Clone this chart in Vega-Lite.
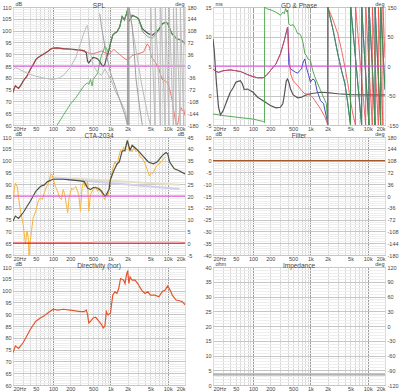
{
"$schema":"https://vega.github.io/schema/vega-lite/v6.json",
"background":"white",
"padding":{"left":1,"top":0,"right":0,"bottom":0},
"columns":2,
"spacing":{"row":12,"column":28},
"bounds":"flush",
"config":{
 "view":{"stroke":"#9a9a9a","strokeWidth":1},
 "font":"Liberation Sans",
 "axis":{"labelFont":"Liberation Sans","labelFontSize":5.5,"labelColor":"#444444","ticks":false,"domain":false,"labelOverlap":false,"titleFont":"Liberation Sans","titleFontSize":5.5,"titleFontWeight":"normal","titleColor":"#444444","labelPadding":2,"gridWidth":1},
 "title":{"font":"Liberation Sans","fontSize":6.5,"fontWeight":"normal","color":"#444444","offset":0,"dy":12,"anchor":"middle","frame":"group"}
},
"datasets":{
"p1l":[
{"s":"t","f":20,"v":73.8},{"s":"t","f":21,"v":75.5},{"s":"t","f":22,"v":76.6},{"s":"t","f":23,"v":76.2},{"s":"t","f":25,"v":75.5},{"s":"t","f":28,"v":77.2},{"s":"t","f":30,"v":78.6},{"s":"t","f":35,"v":80.7},{"s":"t","f":40,"v":83.5},{"s":"t","f":45,"v":85.6},{"s":"t","f":50,"v":87.7},{"s":"t","f":55,"v":88.6},{"s":"t","f":60,"v":89.2},{"s":"t","f":70,"v":90.2},{"s":"t","f":80,"v":91.1},{"s":"t","f":90,"v":92.1},{"s":"t","f":100,"v":92.6},{"s":"t","f":120,"v":92.7},{"s":"t","f":150,"v":92.4},{"s":"t","f":200,"v":92.2},{"s":"t","f":250,"v":91.9},{"s":"t","f":300,"v":91.7},{"s":"t","f":350,"v":91.4},{"s":"t","f":380,"v":90.5},{"s":"t","f":400,"v":87},{"s":"t","f":420,"v":86.3},{"s":"t","f":450,"v":87.4},{"s":"t","f":500,"v":88.6},{"s":"t","f":550,"v":88.4},{"s":"t","f":600,"v":88},{"s":"t","f":650,"v":87},{"s":"t","f":700,"v":85.6},{"s":"t","f":750,"v":84.9},{"s":"t","f":800,"v":85.6},{"s":"t","f":850,"v":88.4},{"s":"t","f":900,"v":90},{"s":"t","f":950,"v":92},{"s":"t","f":1000,"v":94.5},{"s":"t","f":1100,"v":98.1},{"s":"t","f":1200,"v":99},{"s":"t","f":1300,"v":99.5},{"s":"t","f":1450,"v":101.5},{"s":"t","f":1600,"v":106},{"s":"t","f":1750,"v":104.5},{"s":"t","f":1900,"v":107},{"s":"t","f":1970,"v":108.6},{"s":"t","f":2100,"v":104},{"s":"t","f":2250,"v":105},{"s":"t","f":2400,"v":106.5},{"s":"t","f":2800,"v":105.8},{"s":"t","f":3100,"v":105},{"s":"t","f":3600,"v":100.8},{"s":"t","f":4000,"v":99.8},{"s":"t","f":4600,"v":98.7},{"s":"t","f":5400,"v":98},{"s":"t","f":6300,"v":99.4},{"s":"t","f":7000,"v":100.5},{"s":"t","f":8100,"v":102.9},{"s":"t","f":9300,"v":103.6},{"s":"t","f":10000,"v":103},{"s":"t","f":11000,"v":100.5},{"s":"t","f":11800,"v":98.7},{"s":"t","f":14400,"v":96.5},{"s":"t","f":17000,"v":96},{"s":"t","f":20000,"v":94.5},
{"s":"w","f":20,"v":73.7},{"s":"w","f":21,"v":75.5},{"s":"w","f":22,"v":76.6},{"s":"w","f":23,"v":76.2},{"s":"w","f":25,"v":75.5},{"s":"w","f":28,"v":77.2},{"s":"w","f":30,"v":78.6},{"s":"w","f":35,"v":80.7},{"s":"w","f":40,"v":83.5},{"s":"w","f":45,"v":85.6},{"s":"w","f":50,"v":87.7},{"s":"w","f":55,"v":88.6},{"s":"w","f":60,"v":89.2},{"s":"w","f":70,"v":90.2},{"s":"w","f":80,"v":91.1},{"s":"w","f":90,"v":92.1},{"s":"w","f":100,"v":92.5},{"s":"w","f":120,"v":92.6},{"s":"w","f":150,"v":92.2},{"s":"w","f":200,"v":92},{"s":"w","f":250,"v":91.8},{"s":"w","f":300,"v":91.6},{"s":"w","f":350,"v":91.3},{"s":"w","f":400,"v":90.8},{"s":"w","f":450,"v":90.2},{"s":"w","f":500,"v":90.2},{"s":"w","f":600,"v":90.8},{"s":"w","f":700,"v":91.4},{"s":"w","f":800,"v":90.6},{"s":"w","f":950,"v":90},{"s":"w","f":1150,"v":92},{"s":"w","f":1400,"v":90.2},{"s":"w","f":1800,"v":88},{"s":"w","f":2000,"v":87.5},{"s":"w","f":2400,"v":89.5},{"s":"w","f":3100,"v":90.2},{"s":"w","f":3800,"v":91},{"s":"w","f":4400,"v":94.4},{"s":"w","f":4800,"v":93},{"s":"w","f":5200,"v":88.7},{"s":"w","f":6100,"v":86.6},{"s":"w","f":7000,"v":83.8},{"s":"w","f":8000,"v":79.3},{"s":"w","f":9000,"v":78.6},{"s":"w","f":10000,"v":77.9},{"s":"w","f":11000,"v":74.5},{"s":"w","f":12000,"v":70.2},{"s":"w","f":13000,"v":64.6},{"s":"w","f":14000,"v":60.4},{"s":"w","f":14500,"v":59},{"s":"w","f":15500,"v":62},{"s":"w","f":16000,"v":65.3},{"s":"w","f":17000,"v":67.4},{"s":"w","f":18000,"v":66},{"s":"w","f":19000,"v":66.7},{"s":"w","f":20000,"v":63.9},
{"s":"tw","f":118,"v":60},{"s":"tw","f":150,"v":64},{"s":"tw","f":200,"v":68.8},{"s":"tw","f":250,"v":71.6},{"s":"tw","f":300,"v":74.4},{"s":"tw","f":350,"v":76.8},{"s":"tw","f":400,"v":77.9},{"s":"tw","f":420,"v":77.2},{"s":"tw","f":450,"v":79.3},{"s":"tw","f":480,"v":76.5},{"s":"tw","f":500,"v":79.3},{"s":"tw","f":550,"v":80.7},{"s":"tw","f":600,"v":82},{"s":"tw","f":650,"v":86.3},{"s":"tw","f":700,"v":89.7},{"s":"tw","f":750,"v":91.1},{"s":"tw","f":800,"v":93.5},{"s":"tw","f":850,"v":92.5},{"s":"tw","f":900,"v":91},{"s":"tw","f":950,"v":92.5},{"s":"tw","f":1000,"v":94.5},{"s":"tw","f":1100,"v":98.1},{"s":"tw","f":1200,"v":99},{"s":"tw","f":1300,"v":99.5},{"s":"tw","f":1450,"v":101.5},{"s":"tw","f":1600,"v":106},{"s":"tw","f":1750,"v":104.5},{"s":"tw","f":1900,"v":107},{"s":"tw","f":1970,"v":108.6},{"s":"tw","f":2100,"v":104},{"s":"tw","f":2250,"v":105},{"s":"tw","f":2400,"v":106.5},{"s":"tw","f":2800,"v":105.8},{"s":"tw","f":3100,"v":105},{"s":"tw","f":3600,"v":99.8},{"s":"tw","f":4000,"v":98.5},{"s":"tw","f":4600,"v":97.3},{"s":"tw","f":5400,"v":96.8},{"s":"tw","f":6300,"v":98.6},{"s":"tw","f":7000,"v":100.3},{"s":"tw","f":8100,"v":102.9},{"s":"tw","f":9300,"v":103.6},{"s":"tw","f":10000,"v":103},{"s":"tw","f":11000,"v":100.5},{"s":"tw","f":11800,"v":98.7},{"s":"tw","f":14400,"v":96.5},{"s":"tw","f":17000,"v":96},{"s":"tw","f":20000,"v":94.5},
{"s":"mag","f":20,"v":85},{"s":"mag","f":20000,"v":85}],
"p1r":[
{"s":"pa","f":20,"v":-14},{"s":"pa","f":22,"v":-4},{"s":"pa","f":25,"v":-9},{"s":"pa","f":30,"v":-16},{"s":"pa","f":40,"v":-26},{"s":"pa","f":50,"v":-31},{"s":"pa","f":70,"v":-37},{"s":"pa","f":100,"v":-41},{"s":"pa","f":130,"v":-36},{"s":"pa","f":150,"v":-29},{"s":"pa","f":200,"v":-4},{"s":"pa","f":250,"v":27},{"s":"pa","f":300,"v":68},{"s":"pa","f":350,"v":104},{"s":"pa","f":380,"v":119},{"s":"pa","f":400,"v":124},{"s":"pa","f":420,"v":88},{"s":"pa","f":450,"v":37},{"s":"pa","f":500,"v":1},{"s":"pa","f":600,"v":-19},{"s":"pa","f":700,"v":-29},{"s":"pa","f":800,"v":-9},{"s":"pa","f":900,"v":-24},{"s":"pa","f":1000,"v":-39},{"s":"pa","f":1100,"v":-55},{"s":"pa","f":1200,"v":-75},{"s":"pa","f":1500,"v":-106},{"s":"pa","f":1800,"v":-136},{"s":"pa","f":1990,"v":-178},{"s":"pa","f":2000,"v":180},{"s":"pa","f":2200,"v":160},{"s":"pa","f":2500,"v":98},{"s":"pa","f":3000,"v":17},{"s":"pa","f":3500,"v":-55},{"s":"pa","f":4000,"v":-106},{"s":"pa","f":4600,"v":-157},{"s":"pa","f":5000,"v":-180},{"s":"pa","f":5050,"v":180},{"s":"pa","f":6000,"v":-180},{"s":"pa","f":6050,"v":180},{"s":"pa","f":7500,"v":-180},{"s":"pa","f":7550,"v":180},{"s":"pa","f":9000,"v":-180},{"s":"pa","f":9100,"v":180},{"s":"pa","f":10500,"v":-180},{"s":"pa","f":10600,"v":180},{"s":"pa","f":12500,"v":-180},{"s":"pa","f":12600,"v":180},{"s":"pa","f":14000,"v":-180},{"s":"pa","f":14100,"v":180},{"s":"pa","f":16500,"v":-180},{"s":"pa","f":16600,"v":180},{"s":"pa","f":19000,"v":-180},{"s":"pa","f":19100,"v":180},{"s":"pa","f":20000,"v":60},
{"s":"pb","f":650,"v":160},{"s":"pb","f":700,"v":120},{"s":"pb","f":800,"v":60},{"s":"pb","f":900,"v":15},{"s":"pb","f":1000,"v":-20},{"s":"pb","f":1200,"v":-60},{"s":"pb","f":1500,"v":-110},{"s":"pb","f":1800,"v":-150},{"s":"pb","f":1980,"v":-180},{"s":"pb","f":1990,"v":180},{"s":"pb","f":2050,"v":150},{"s":"pb","f":2100,"v":-180},{"s":"pb","f":2110,"v":180},{"s":"pb","f":2400,"v":120},{"s":"pb","f":2600,"v":40},{"s":"pb","f":2800,"v":-40},{"s":"pb","f":3200,"v":-120},{"s":"pb","f":3600,"v":-180}],
"gd":[{"f":20,"v":9.6},{"f":21,"v":7.6},{"f":23,"v":2},{"f":25,"v":-2},{"f":27,"v":-3.3},{"f":30,"v":-2.6},{"f":35,"v":-0.9},{"f":40,"v":0.55},{"f":45,"v":1.3},{"f":50,"v":2.25},{"f":55,"v":2.4},{"f":60,"v":2.5},{"f":65,"v":2},{"f":70,"v":1},{"f":80,"v":1.1},{"f":90,"v":0.8},{"f":100,"v":0.55},{"f":120,"v":-0.3},{"f":150,"v":-0.9},{"f":200,"v":-1.7},{"f":250,"v":-2.1},{"f":300,"v":-2},{"f":330,"v":-1.4},{"f":350,"v":0},{"f":380,"v":2.5},{"f":400,"v":2.8},{"f":420,"v":2.25},{"f":450,"v":1.1},{"f":500,"v":0.1},{"f":600,"v":-0.4},{"f":700,"v":-0.3},{"f":800,"v":0},{"f":1000,"v":0.3},{"f":1500,"v":0.55},{"f":2000,"v":0.5},{"f":3000,"v":0.3},{"f":5000,"v":0.15},{"f":10000,"v":0.1},{"f":20000,"v":0.1}],
"p2r":[
{"s":"pt","f":20,"v":-7},{"s":"pt","f":22,"v":-13},{"s":"pt","f":25,"v":-16},{"s":"pt","f":30,"v":-12},{"s":"pt","f":40,"v":-10},{"s":"pt","f":50,"v":-12},{"s":"pt","f":60,"v":-14},{"s":"pt","f":70,"v":-18},{"s":"pt","f":80,"v":-22},{"s":"pt","f":100,"v":-27},{"s":"pt","f":120,"v":-30},{"s":"pt","f":150,"v":-30},{"s":"pt","f":170,"v":-24},{"s":"pt","f":200,"v":-12},{"s":"pt","f":250,"v":5},{"s":"pt","f":300,"v":31},{"s":"pt","f":350,"v":65},{"s":"pt","f":380,"v":86},{"s":"pt","f":400,"v":99},{"s":"pt","f":405,"v":90},{"s":"pt","f":420,"v":5},{"s":"pt","f":450,"v":-7},{"s":"pt","f":500,"v":-12},{"s":"pt","f":550,"v":-16},{"s":"pt","f":600,"v":-18},{"s":"pt","f":650,"v":-12},{"s":"pt","f":700,"v":-7},{"s":"pt","f":750,"v":10},{"s":"pt","f":800,"v":18},{"s":"pt","f":850,"v":-3},{"s":"pt","f":900,"v":-16},{"s":"pt","f":950,"v":-28},{"s":"pt","f":1000,"v":-41},{"s":"pt","f":1100,"v":-33},{"s":"pt","f":1200,"v":-37},{"s":"pt","f":1300,"v":-62},{"s":"pt","f":1500,"v":-88},{"s":"pt","f":1700,"v":-96},{"s":"pt","f":2000,"v":-145},{"s":"pt","f":2005,"v":-150},{"s":"pt","f":2010,"v":150},{"s":"pt","f":2200,"v":125},{"s":"pt","f":2500,"v":90},{"s":"pt","f":3000,"v":31},{"s":"pt","f":3500,"v":-12},{"s":"pt","f":4000,"v":-45},{"s":"pt","f":4500,"v":-96},{"s":"pt","f":5000,"v":-150},{"s":"pt","f":5050,"v":150},{"s":"pt","f":6300,"v":0},{"s":"pt","f":7800,"v":-150},{"s":"pt","f":7850,"v":150},{"s":"pt","f":9000,"v":0},{"s":"pt","f":10500,"v":-150},{"s":"pt","f":10550,"v":150},{"s":"pt","f":12000,"v":0},{"s":"pt","f":13400,"v":-150},{"s":"pt","f":13450,"v":150},{"s":"pt","f":15000,"v":0},{"s":"pt","f":16800,"v":-150},{"s":"pt","f":16850,"v":150},{"s":"pt","f":20000,"v":-60},
{"s":"pw","f":20,"v":-7},{"s":"pw","f":22,"v":-13},{"s":"pw","f":25,"v":-16},{"s":"pw","f":30,"v":-12},{"s":"pw","f":40,"v":-10},{"s":"pw","f":50,"v":-12},{"s":"pw","f":60,"v":-14},{"s":"pw","f":70,"v":-18},{"s":"pw","f":80,"v":-22},{"s":"pw","f":100,"v":-27},{"s":"pw","f":120,"v":-30},{"s":"pw","f":150,"v":-30},{"s":"pw","f":170,"v":-24},{"s":"pw","f":200,"v":-12},{"s":"pw","f":250,"v":5},{"s":"pw","f":300,"v":31},{"s":"pw","f":350,"v":65},{"s":"pw","f":380,"v":86},{"s":"pw","f":400,"v":99},{"s":"pw","f":420,"v":39},{"s":"pw","f":450,"v":-20},{"s":"pw","f":500,"v":-37},{"s":"pw","f":600,"v":-50},{"s":"pw","f":700,"v":-62},{"s":"pw","f":800,"v":-71},{"s":"pw","f":900,"v":-71},{"s":"pw","f":1000,"v":-75},{"s":"pw","f":1100,"v":-80},{"s":"pw","f":1200,"v":-88},{"s":"pw","f":1500,"v":-109},{"s":"pw","f":1800,"v":-130},{"s":"pw","f":2000,"v":-150},{"s":"pw","f":2010,"v":150},{"s":"pw","f":2500,"v":116},{"s":"pw","f":3000,"v":82},{"s":"pw","f":3500,"v":40},{"s":"pw","f":4000,"v":-3},{"s":"pw","f":4500,"v":-45},{"s":"pw","f":5000,"v":-88},{"s":"pw","f":5500,"v":-122},{"s":"pw","f":6100,"v":-150},{"s":"pw","f":6150,"v":150},{"s":"pw","f":7500,"v":0},{"s":"pw","f":9200,"v":-150},{"s":"pw","f":9250,"v":150},{"s":"pw","f":10500,"v":0},{"s":"pw","f":12000,"v":-150},{"s":"pw","f":12050,"v":150},{"s":"pw","f":13500,"v":0},{"s":"pw","f":15300,"v":-150},{"s":"pw","f":15350,"v":150},{"s":"pw","f":16800,"v":0},{"s":"pw","f":18400,"v":-150},{"s":"pw","f":18450,"v":150},{"s":"pw","f":20000,"v":20},
{"s":"ptw","f":20,"v":-122},{"s":"ptw","f":30,"v":-126},{"s":"ptw","f":50,"v":-130},{"s":"ptw","f":100,"v":-135},{"s":"ptw","f":150,"v":-141},{"s":"ptw","f":158,"v":-144},{"s":"ptw","f":159,"v":150},{"s":"ptw","f":170,"v":146},{"s":"ptw","f":200,"v":143},{"s":"ptw","f":250,"v":137},{"s":"ptw","f":300,"v":129},{"s":"ptw","f":330,"v":137},{"s":"ptw","f":350,"v":133},{"s":"ptw","f":370,"v":146},{"s":"ptw","f":390,"v":137},{"s":"ptw","f":400,"v":142},{"s":"ptw","f":420,"v":108},{"s":"ptw","f":450,"v":103},{"s":"ptw","f":500,"v":105},{"s":"ptw","f":550,"v":95},{"s":"ptw","f":600,"v":82},{"s":"ptw","f":650,"v":82},{"s":"ptw","f":700,"v":74},{"s":"ptw","f":750,"v":57},{"s":"ptw","f":800,"v":31},{"s":"ptw","f":850,"v":27},{"s":"ptw","f":900,"v":18},{"s":"ptw","f":1000,"v":14},{"s":"ptw","f":1100,"v":-12},{"s":"ptw","f":1200,"v":-28},{"s":"ptw","f":1500,"v":-62},{"s":"ptw","f":1800,"v":-88},{"s":"ptw","f":1900,"v":-96},{"s":"ptw","f":2000,"v":-150},{"s":"ptw","f":2010,"v":150},{"s":"ptw","f":2200,"v":125},{"s":"ptw","f":2500,"v":90},{"s":"ptw","f":3000,"v":31},{"s":"ptw","f":3500,"v":-12},{"s":"ptw","f":4000,"v":-45},{"s":"ptw","f":4500,"v":-96},{"s":"ptw","f":5000,"v":-150},{"s":"ptw","f":5050,"v":150},{"s":"ptw","f":6300,"v":0},{"s":"ptw","f":7800,"v":-150},{"s":"ptw","f":7850,"v":150},{"s":"ptw","f":9000,"v":0},{"s":"ptw","f":10500,"v":-150},{"s":"ptw","f":10550,"v":150},{"s":"ptw","f":12000,"v":0},{"s":"ptw","f":13400,"v":-150},{"s":"ptw","f":13450,"v":150},{"s":"ptw","f":15000,"v":0},{"s":"ptw","f":16800,"v":-150},{"s":"ptw","f":16850,"v":150},{"s":"ptw","f":20000,"v":-60},
{"s":"mag","f":20,"v":0},{"s":"mag","f":20000,"v":0}],
"p3l":[
{"s":"t1","f":90,"v":92.9},{"s":"t1","f":16000,"v":89.8},
{"s":"t2","f":100,"v":92.6},{"s":"t2","f":16000,"v":88},
{"s":"pir","f":20,"v":78.6},{"s":"pir","f":21,"v":87.7},{"s":"pir","f":22,"v":90.4},{"s":"pir","f":23,"v":89.7},{"s":"pir","f":24,"v":88.4},{"s":"pir","f":25,"v":84.2},{"s":"pir","f":27,"v":78.6},{"s":"pir","f":30,"v":73},{"s":"pir","f":32,"v":67.4},{"s":"pir","f":33,"v":64.6},{"s":"pir","f":35,"v":70.2},{"s":"pir","f":37,"v":67.4},{"s":"pir","f":38,"v":59.5},{"s":"pir","f":40,"v":66},{"s":"pir","f":42,"v":70.2},{"s":"pir","f":45,"v":75.8},{"s":"pir","f":50,"v":78.6},{"s":"pir","f":55,"v":82.8},{"s":"pir","f":60,"v":84.2},{"s":"pir","f":65,"v":83.5},{"s":"pir","f":70,"v":86.3},{"s":"pir","f":75,"v":88.4},{"s":"pir","f":80,"v":89.7},{"s":"pir","f":85,"v":91.1},{"s":"pir","f":90,"v":94},{"s":"pir","f":95,"v":94.2},{"s":"pir","f":100,"v":92.5},{"s":"pir","f":110,"v":89},{"s":"pir","f":120,"v":87},{"s":"pir","f":130,"v":84.2},{"s":"pir","f":140,"v":83.5},{"s":"pir","f":150,"v":87.7},{"s":"pir","f":160,"v":85.6},{"s":"pir","f":170,"v":81.4},{"s":"pir","f":180,"v":77.9},{"s":"pir","f":190,"v":84.2},{"s":"pir","f":200,"v":86.3},{"s":"pir","f":210,"v":88.4},{"s":"pir","f":220,"v":87.7},{"s":"pir","f":250,"v":89},{"s":"pir","f":280,"v":85.6},{"s":"pir","f":300,"v":78.6},{"s":"pir","f":320,"v":88.4},{"s":"pir","f":340,"v":91.1},{"s":"pir","f":360,"v":89},{"s":"pir","f":380,"v":89.7},{"s":"pir","f":400,"v":91.1},{"s":"pir","f":420,"v":78.6},{"s":"pir","f":450,"v":85.6},{"s":"pir","f":500,"v":87.7},{"s":"pir","f":550,"v":89},{"s":"pir","f":600,"v":87},{"s":"pir","f":650,"v":88.4},{"s":"pir","f":700,"v":86.3},{"s":"pir","f":750,"v":84.9},{"s":"pir","f":800,"v":83.5},{"s":"pir","f":850,"v":86.3},{"s":"pir","f":900,"v":84.9},{"s":"pir","f":950,"v":87.7},{"s":"pir","f":1000,"v":91.8},{"s":"pir","f":1100,"v":96.7},{"s":"pir","f":1200,"v":99.5},{"s":"pir","f":1300,"v":98.1},{"s":"pir","f":1400,"v":101.6},{"s":"pir","f":1500,"v":104.4},{"s":"pir","f":1600,"v":103.7},{"s":"pir","f":1700,"v":105.8},{"s":"pir","f":1800,"v":103.7},{"s":"pir","f":1900,"v":107.2},{"s":"pir","f":2000,"v":107.9},{"s":"pir","f":2100,"v":104.4},{"s":"pir","f":2200,"v":105.1},{"s":"pir","f":2400,"v":103.7},{"s":"pir","f":2600,"v":105.8},{"s":"pir","f":2800,"v":103.7},{"s":"pir","f":3000,"v":104.4},{"s":"pir","f":3300,"v":101.6},{"s":"pir","f":3600,"v":100.9},{"s":"pir","f":4000,"v":98.8},{"s":"pir","f":4500,"v":95.5},{"s":"pir","f":4800,"v":93.5},{"s":"pir","f":5200,"v":95},{"s":"pir","f":5500,"v":94.5},{"s":"pir","f":6000,"v":96.5},{"s":"pir","f":6500,"v":98},{"s":"pir","f":7000,"v":98.5},{"s":"pir","f":8000,"v":100},{"s":"pir","f":9000,"v":101.5},
{"s":"lw","f":20,"v":74.4},{"s":"lw","f":22,"v":76.5},{"s":"lw","f":25,"v":75.5},{"s":"lw","f":30,"v":77.9},{"s":"lw","f":40,"v":82.8},{"s":"lw","f":50,"v":87},{"s":"lw","f":60,"v":89},{"s":"lw","f":70,"v":89.7},{"s":"lw","f":80,"v":91.1},{"s":"lw","f":100,"v":92.1},{"s":"lw","f":150,"v":92.1},{"s":"lw","f":200,"v":91.8},{"s":"lw","f":300,"v":91.4},{"s":"lw","f":350,"v":91.1},{"s":"lw","f":400,"v":88.4},{"s":"lw","f":450,"v":87.7},{"s":"lw","f":500,"v":88.6},{"s":"lw","f":600,"v":88.4},{"s":"lw","f":700,"v":87},{"s":"lw","f":800,"v":85},{"s":"lw","f":850,"v":85.4},{"s":"lw","f":950,"v":88},{"s":"lw","f":1000,"v":92},{"s":"lw","f":1150,"v":95.8},{"s":"lw","f":1300,"v":98.5},{"s":"lw","f":1430,"v":99.4},{"s":"lw","f":1600,"v":104},{"s":"lw","f":1800,"v":104.4},{"s":"lw","f":1970,"v":108.6},{"s":"lw","f":2200,"v":104.4},{"s":"lw","f":2400,"v":106.5},{"s":"lw","f":3000,"v":104.4},{"s":"lw","f":3600,"v":102.2},{"s":"lw","f":4600,"v":99.4},{"s":"lw","f":5600,"v":98.6},{"s":"lw","f":6500,"v":99.4},{"s":"lw","f":8100,"v":102.2},{"s":"lw","f":9300,"v":103.4},{"s":"lw","f":10000,"v":102.9},{"s":"lw","f":10800,"v":99.4},{"s":"lw","f":13000,"v":96.5},{"s":"lw","f":15500,"v":95.8},{"s":"lw","f":20000,"v":94.3},
{"s":"mag","f":20,"v":85},{"s":"mag","f":20000,"v":85},
{"s":"ref","f":20,"v":65},{"s":"ref","f":20000,"v":65}],
"di":[{"f":500,"v":0.6},{"f":16000,"v":0.6}],
"fm":[{"f":20,"v":0},{"f":20000,"v":0}],
"dir":[{"f":20,"v":73.7},{"f":22,"v":76.5},{"f":25,"v":75.5},{"f":30,"v":77.9},{"f":40,"v":83.5},{"f":50,"v":87},{"f":60,"v":88.4},{"f":70,"v":89.3},{"f":80,"v":90.4},{"f":100,"v":92.1},{"f":120,"v":91.7},{"f":150,"v":92.1},{"f":200,"v":91.7},{"f":300,"v":91.1},{"f":350,"v":91.1},{"f":380,"v":91.8},{"f":400,"v":89.7},{"f":420,"v":86.3},{"f":450,"v":87},{"f":500,"v":88.4},{"f":550,"v":88.7},{"f":600,"v":87.7},{"f":700,"v":85.6},{"f":750,"v":84.2},{"f":800,"v":84.9},{"f":850,"v":91.1},{"f":900,"v":89.7},{"f":1000,"v":90.4},{"f":1100,"v":98.1},{"f":1200,"v":99.5},{"f":1300,"v":98.8},{"f":1400,"v":101},{"f":1500,"v":105.1},{"f":1700,"v":104.4},{"f":1800,"v":103},{"f":1900,"v":106.5},{"f":2000,"v":108.5},{"f":2100,"v":103},{"f":2200,"v":105.8},{"f":2400,"v":104.4},{"f":2700,"v":104.4},{"f":3000,"v":103},{"f":3500,"v":100.2},{"f":4000,"v":98.8},{"f":4500,"v":99.5},{"f":5000,"v":98.1},{"f":5500,"v":98.1},{"f":6000,"v":98.1},{"f":7000,"v":97.4},{"f":8000,"v":99.5},{"f":9000,"v":100.2},{"f":10000,"v":102},{"f":11000,"v":100.2},{"f":12000,"v":98.1},{"f":14000,"v":96},{"f":16000,"v":95.7},{"f":18000,"v":95.3},{"f":20000,"v":94}],
"imp":[{"f":20,"v":3.7},{"f":20000,"v":3.7}],
"impph":[{"f":20,"v":-100},{"f":20000,"v":-100}]
},
"concat":[
{"width":172,"height":118,"title":"SPL",
 "layer":[
  {"data":{"name":"p1l"},"mark":{"type":"line","clip":true},
   "encoding":{
    "x":{"field":"f","type":"quantitative","scale":{"type":"log","domain":[20,20000],"nice":false},"axis":{"values":[20,30,40,50,60,70,80,90,100,200,300,400,500,600,700,800,900,1000,2000,3000,4000,5000,6000,7000,8000,9000,10000,20000],"labelExpr":"datum.value==20?'20Hz':(datum.value==50||datum.value==100||datum.value==200||datum.value==500)?''+datum.value:(datum.value==1000||datum.value==2000||datum.value==5000||datum.value==10000||datum.value==20000)?(datum.value/1000)+'k':''","labelOverlap":false,"labelFlush":true,"labelPadding":1,"grid":true,"gridColor":{"condition":{"test":"datum.value==100||datum.value==1000||datum.value==10000","value":"#9c9c9c"},"value":"#d9d9d9"},"title":null}},
    "y":{"field":"v","type":"quantitative","scale":{"domain":[60,110],"nice":false,"zero":false},"axis":{"values":[60,61,62,63,64,65,66,67,68,69,70,71,72,73,74,75,76,77,78,79,80,81,82,83,84,85,86,87,88,89,90,91,92,93,94,95,96,97,98,99,100,101,102,103,104,105,106,107,108,109,110],"labelExpr":"datum.value%5==0?''+datum.value:''","labelOverlap":false,"grid":true,"gridColor":{"condition":{"test":"datum.value%5==0","value":"#c6c6c6"},"value":"#eeeeee"},"title":"dB","titleAngle":0,"titleX":2,"titleY":-1,"titleAlign":"left","titleBaseline":"bottom"}},
    "color":{"field":"s","type":"nominal","legend":null,"scale":{"domain":["t","w","tw","mag","pa","pb","pt","pw","ptw","t1","t2","pir","lw","ref"],"range":["#505050","#ef3b33","#4aa84a","#ff3cff","#bcbcbc","#a0a0a0","#4a4ac8","#ee4444","#3c9c3c","#e6dfc4","#cfcfea","#f8b43c","#4e5245","#e81818"]}},
    "strokeWidth":{"field":"s","type":"nominal","legend":null,"scale":{"type":"ordinal","domain":["t","w","tw","mag","pa","pb","pt","pw","ptw","t1","t2","pir","lw","ref"],"range":[1.2,1,1,1,1,1,1,1,1,2,2,1,1.2,1.3]}},
    "opacity":{"field":"s","type":"nominal","legend":null,"scale":{"type":"ordinal","domain":["t","w","tw","mag","pa","pb","pt","pw","ptw","t1","t2","pir","lw","ref"],"range":[1,0.7,0.85,1,1,1,1,0.8,0.85,1,1,1,1,1]}}}},
  {"data":{"name":"p1r"},"mark":{"type":"line","strokeWidth":1,"clip":true},
   "encoding":{
    "x":{"field":"f","type":"quantitative","scale":{"type":"log","domain":[20,20000],"nice":false}},
    "y":{"field":"v","type":"quantitative","scale":{"domain":[-180,180],"nice":false},"axis":{"orient":"right","values":[-180,-144,-108,-72,-36,0,36,72,108,144,180],"labelExpr":"''+datum.value","labelOverlap":false,"grid":false,"title":"deg","titleAngle":0,"titleX":-1,"titleY":-1,"titleAlign":"right","titleBaseline":"bottom"}},
    "color":{"field":"s","type":"nominal","legend":null,"scale":{"domain":["t","w","tw","mag","pa","pb","pt","pw","ptw","t1","t2","pir","lw","ref"],"range":["#505050","#ef3b33","#4aa84a","#ff3cff","#bcbcbc","#a0a0a0","#4a4ac8","#ee4444","#3c9c3c","#e6dfc4","#cfcfea","#f8b43c","#4e5245","#e81818"]}}}}
 ],
 "resolve":{"scale":{"y":"independent"}}
},
{"width":172,"height":118,"title":"GD & Phase",
 "layer":[
  {"data":{"name":"gd"},"mark":{"type":"line","color":"#555555","strokeWidth":1.2,"clip":true},
   "encoding":{
    "x":{"field":"f","type":"quantitative","scale":{"type":"log","domain":[20,20000],"nice":false},"axis":{"values":[20,30,40,50,60,70,80,90,100,200,300,400,500,600,700,800,900,1000,2000,3000,4000,5000,6000,7000,8000,9000,10000,20000],"labelExpr":"datum.value==20?'20Hz':(datum.value==50||datum.value==100||datum.value==200||datum.value==500)?''+datum.value:(datum.value==1000||datum.value==2000||datum.value==5000||datum.value==10000||datum.value==20000)?(datum.value/1000)+'k':''","labelOverlap":false,"labelFlush":true,"labelPadding":1,"grid":true,"gridColor":{"condition":{"test":"datum.value==100||datum.value==1000||datum.value==10000","value":"#9c9c9c"},"value":"#d9d9d9"},"title":null}},
    "y":{"field":"v","type":"quantitative","scale":{"domain":[-5,15],"nice":false,"zero":false},"axis":{"values":[-5,-4,-3,-2,-1,0,1,2,3,4,5,6,7,8,9,10,11,12,13,14,15],"labelExpr":"datum.value%5==0?''+datum.value:''","labelOverlap":false,"grid":true,"gridColor":{"condition":{"test":"datum.value%5==0","value":"#c6c6c6"},"value":"#eeeeee"},"title":"ms","titleAngle":0,"titleX":2,"titleY":-1,"titleAlign":"left","titleBaseline":"bottom"}}}},
  {"data":{"name":"p2r"},"mark":{"type":"line","strokeWidth":1,"clip":true},
   "encoding":{
    "x":{"field":"f","type":"quantitative","scale":{"type":"log","domain":[20,20000],"nice":false}},
    "y":{"field":"v","type":"quantitative","scale":{"domain":[-150,150],"nice":false},"axis":{"orient":"right","values":[-150,-75,0,75,150],"labelExpr":"datum.value==75?'50':datum.value==-75?'-50':''+datum.value","labelOverlap":false,"grid":false,"title":"deg","titleAngle":0,"titleX":-1,"titleY":-1,"titleAlign":"right","titleBaseline":"bottom"}},
    "color":{"field":"s","type":"nominal","legend":null,"scale":{"domain":["t","w","tw","mag","pa","pb","pt","pw","ptw","t1","t2","pir","lw","ref"],"range":["#505050","#ef3b33","#4aa84a","#ff3cff","#bcbcbc","#a0a0a0","#4a4ac8","#ee4444","#3c9c3c","#e6dfc4","#cfcfea","#f8b43c","#4e5245","#e81818"]}},
    "opacity":{"field":"s","type":"nominal","legend":null,"scale":{"type":"ordinal","domain":["t","w","tw","mag","pa","pb","pt","pw","ptw","t1","t2","pir","lw","ref"],"range":[1,0.7,0.85,1,1,1,1,0.8,0.85,1,1,1,1,1]}}}}
 ],
 "resolve":{"scale":{"y":"independent"}}
},
{"width":172,"height":118,"title":"CTA-2034",
 "layer":[
  {"data":{"name":"p3l"},"mark":{"type":"line","clip":true},
   "encoding":{
    "x":{"field":"f","type":"quantitative","scale":{"type":"log","domain":[20,20000],"nice":false},"axis":{"values":[20,30,40,50,60,70,80,90,100,200,300,400,500,600,700,800,900,1000,2000,3000,4000,5000,6000,7000,8000,9000,10000,20000],"labelExpr":"datum.value==20?'20Hz':(datum.value==50||datum.value==100||datum.value==200||datum.value==500)?''+datum.value:(datum.value==1000||datum.value==2000||datum.value==5000||datum.value==10000||datum.value==20000)?(datum.value/1000)+'k':''","labelOverlap":false,"labelFlush":true,"labelPadding":1,"grid":true,"gridColor":{"condition":{"test":"datum.value==100||datum.value==1000||datum.value==10000","value":"#9c9c9c"},"value":"#d9d9d9"},"title":null}},
    "y":{"field":"v","type":"quantitative","scale":{"domain":[60,110],"nice":false,"zero":false},"axis":{"values":[60,61,62,63,64,65,66,67,68,69,70,71,72,73,74,75,76,77,78,79,80,81,82,83,84,85,86,87,88,89,90,91,92,93,94,95,96,97,98,99,100,101,102,103,104,105,106,107,108,109,110],"labelExpr":"datum.value%5==0?''+datum.value:''","labelOverlap":false,"grid":true,"gridColor":{"condition":{"test":"datum.value%5==0","value":"#c6c6c6"},"value":"#eeeeee"},"title":"dB","titleAngle":0,"titleX":2,"titleY":-1,"titleAlign":"left","titleBaseline":"bottom"}},
    "color":{"field":"s","type":"nominal","legend":null,"scale":{"domain":["t","w","tw","mag","pa","pb","pt","pw","ptw","t1","t2","pir","lw","ref"],"range":["#505050","#ef3b33","#4aa84a","#ff3cff","#bcbcbc","#a0a0a0","#4a4ac8","#ee4444","#3c9c3c","#e6dfc4","#cfcfea","#f8b43c","#4e5245","#e81818"]}},
    "strokeWidth":{"field":"s","type":"nominal","legend":null,"scale":{"type":"ordinal","domain":["t","w","tw","mag","pa","pb","pt","pw","ptw","t1","t2","pir","lw","ref"],"range":[1.2,1,1,1,1,1,1,1,1,2,2,1,1.2,1.3]}}}},
  {"data":{"name":"di"},"mark":{"type":"line","color":"#f5c8c8","strokeWidth":1.5,"clip":true},
   "encoding":{
    "x":{"field":"f","type":"quantitative","scale":{"type":"log","domain":[20,20000],"nice":false}},
    "y":{"field":"v","type":"quantitative","scale":{"domain":[-5,45],"nice":false,"zero":false},"axis":{"orient":"right","values":[-5,0,5,10,15,20,25,30,35,40,45],"labelExpr":"''+datum.value","labelOverlap":false,"grid":false,"title":"dB","titleAngle":0,"titleX":-1,"titleY":-1,"titleAlign":"right","titleBaseline":"bottom"}}}}
 ],
 "resolve":{"scale":{"y":"independent"}}
},
{"width":172,"height":118,"title":"Filter",
 "layer":[
  {"data":{"name":"fm"},"mark":{"type":"line","color":"#a4582c","strokeWidth":1.2,"clip":true},
   "encoding":{
    "x":{"field":"f","type":"quantitative","scale":{"type":"log","domain":[20,20000],"nice":false},"axis":{"values":[20,30,40,50,60,70,80,90,100,200,300,400,500,600,700,800,900,1000,2000,3000,4000,5000,6000,7000,8000,9000,10000,20000],"labelExpr":"datum.value==20?'20Hz':(datum.value==50||datum.value==100||datum.value==200||datum.value==500)?''+datum.value:(datum.value==1000||datum.value==2000||datum.value==5000||datum.value==10000||datum.value==20000)?(datum.value/1000)+'k':''","labelOverlap":false,"labelFlush":true,"labelPadding":1,"grid":true,"gridColor":{"condition":{"test":"datum.value==100||datum.value==1000||datum.value==10000","value":"#9c9c9c"},"value":"#d9d9d9"},"title":null}},
    "y":{"field":"v","type":"quantitative","scale":{"domain":[-40,10],"nice":false,"zero":false},"axis":{"values":[-40,-39,-38,-37,-36,-35,-34,-33,-32,-31,-30,-29,-28,-27,-26,-25,-24,-23,-22,-21,-20,-19,-18,-17,-16,-15,-14,-13,-12,-11,-10,-9,-8,-7,-6,-5,-4,-3,-2,-1,0,1,2,3,4,5,6,7,8,9,10],"labelExpr":"datum.value%5==0?''+datum.value:''","labelOverlap":false,"grid":true,"gridColor":{"condition":{"test":"datum.value%5==0","value":"#c6c6c6"},"value":"#eeeeee"},"title":"dB","titleAngle":0,"titleX":2,"titleY":-1,"titleAlign":"left","titleBaseline":"bottom"}}}},
  {"data":{"values":[{}]},"mark":{"type":"rule","opacity":0},
   "encoding":{"y":{"datum":0,"type":"quantitative","scale":{"domain":[-180,180],"nice":false},"axis":{"orient":"right","values":[-180,-144,-108,-72,-36,0,36,72,108,144,180],"labelExpr":"''+datum.value","labelOverlap":false,"grid":false,"title":"deg","titleAngle":0,"titleX":-1,"titleY":-1,"titleAlign":"right","titleBaseline":"bottom"}}}}
 ],
 "resolve":{"scale":{"y":"independent"}}
},
{"width":172,"height":118,"title":"Directivity (hor)",
 "data":{"name":"dir"},
 "mark":{"type":"line","color":"#e3562d","strokeWidth":1.2,"clip":true},
 "encoding":{
  "x":{"field":"f","type":"quantitative","scale":{"type":"log","domain":[20,20000],"nice":false},"axis":{"values":[20,30,40,50,60,70,80,90,100,200,300,400,500,600,700,800,900,1000,2000,3000,4000,5000,6000,7000,8000,9000,10000,20000],"labelExpr":"datum.value==20?'20Hz':(datum.value==50||datum.value==100||datum.value==200||datum.value==500)?''+datum.value:(datum.value==1000||datum.value==2000||datum.value==5000||datum.value==10000||datum.value==20000)?(datum.value/1000)+'k':''","labelOverlap":false,"labelFlush":true,"labelPadding":1,"grid":true,"gridColor":{"condition":{"test":"datum.value==100||datum.value==1000||datum.value==10000","value":"#9c9c9c"},"value":"#d9d9d9"},"title":null}},
  "y":{"field":"v","type":"quantitative","scale":{"domain":[60,110],"nice":false,"zero":false},"axis":{"values":[60,61,62,63,64,65,66,67,68,69,70,71,72,73,74,75,76,77,78,79,80,81,82,83,84,85,86,87,88,89,90,91,92,93,94,95,96,97,98,99,100,101,102,103,104,105,106,107,108,109,110],"labelExpr":"datum.value%5==0?''+datum.value:''","labelOverlap":false,"grid":true,"gridColor":{"condition":{"test":"datum.value%5==0","value":"#c6c6c6"},"value":"#eeeeee"},"title":"dB","titleAngle":0,"titleX":2,"titleY":-1,"titleAlign":"left","titleBaseline":"bottom"}}}
},
{"width":172,"height":118,"title":"Impedance",
 "layer":[
  {"data":{"name":"imp"},"mark":{"type":"line","color":"#9a9a9a","strokeWidth":1.3,"clip":true},
   "encoding":{
    "x":{"field":"f","type":"quantitative","scale":{"type":"log","domain":[20,20000],"nice":false},"axis":{"values":[20,30,40,50,60,70,80,90,100,200,300,400,500,600,700,800,900,1000,2000,3000,4000,5000,6000,7000,8000,9000,10000,20000],"labelExpr":"datum.value==20?'20Hz':(datum.value==50||datum.value==100||datum.value==200||datum.value==500)?''+datum.value:(datum.value==1000||datum.value==2000||datum.value==5000||datum.value==10000||datum.value==20000)?(datum.value/1000)+'k':''","labelOverlap":false,"labelFlush":true,"labelPadding":1,"grid":true,"gridColor":{"condition":{"test":"datum.value==100||datum.value==1000||datum.value==10000","value":"#9c9c9c"},"value":"#d9d9d9"},"title":null}},
    "y":{"field":"v","type":"quantitative","scale":{"domain":[0,40],"nice":false,"zero":false},"axis":{"values":[0,1,2,3,4,5,6,7,8,9,10,11,12,13,14,15,16,17,18,19,20,21,22,23,24,25,26,27,28,29,30,31,32,33,34,35,36,37,38,39,40],"labelExpr":"datum.value%5==0?''+datum.value:''","labelOverlap":false,"grid":true,"gridColor":{"condition":{"test":"datum.value%5==0","value":"#c6c6c6"},"value":"#eeeeee"},"title":"ohm","titleAngle":0,"titleX":2,"titleY":-1,"titleAlign":"left","titleBaseline":"bottom"}}}},
  {"data":{"name":"impph"},"mark":{"type":"line","color":"#b4b4b4","strokeWidth":1,"clip":true},
   "encoding":{
    "x":{"field":"f","type":"quantitative","scale":{"type":"log","domain":[20,20000],"nice":false}},
    "y":{"field":"v","type":"quantitative","scale":{"domain":[-120,120],"nice":false},"axis":{"orient":"right","values":[-120,-90,-60,-30,0,30,60,90,120],"labelExpr":"''+datum.value","labelOverlap":false,"grid":false,"title":"deg","titleAngle":0,"titleX":-1,"titleY":-1,"titleAlign":"right","titleBaseline":"bottom"}}}}
 ],
 "resolve":{"scale":{"y":"independent"}}
}
]
}
